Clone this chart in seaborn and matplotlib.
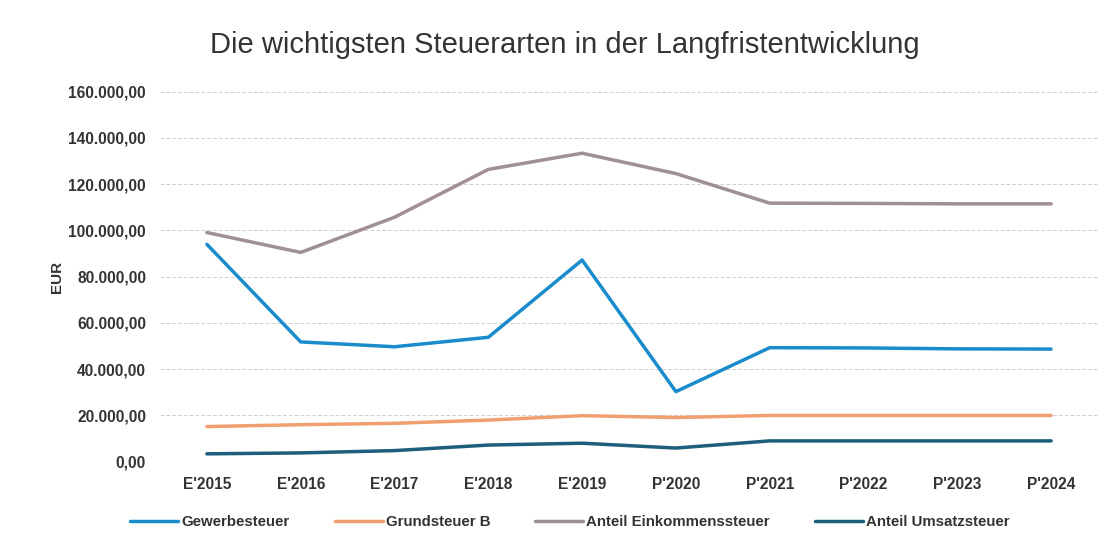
import pandas as pd
import numpy as np
import matplotlib
matplotlib.use('Agg')
import matplotlib.pyplot as plt
from matplotlib.ticker import FuncFormatter, MultipleLocator
import seaborn as sns

# Data
years = ["E'2015", "E'2016", "E'2017", "E'2018", "E'2019",
         "P'2020", "P'2021", "P'2022", "P'2023", "P'2024"]
gewerbesteuer = [94000, 51800, 49700, 53800, 87200, 30300, 49300, 49200, 48800, 48700]
grundsteuer_b = [15200, 16000, 16600, 18000, 19900, 19100, 20000, 20000, 20000, 20000]
einkommensteuer = [99100, 90500, 105700, 126400, 133400, 124600, 111800, 111700, 111500, 111500]
umsatzsteuer = [3400, 3800, 4800, 7200, 8000, 5900, 9000, 9000, 9000, 9000]

series_names = ['Gewerbesteuer', 'Grundsteuer B', 'Anteil Einkommenssteuer', 'Anteil Umsatzsteuer']
colors = ['#1a8ccc', '#f0a070', '#a08e98', '#1d5e7c']

df = pd.DataFrame({
    'Jahr': years * 4,
    'Wert': gewerbesteuer + grundsteuer_b + einkommensteuer + umsatzsteuer,
    'Steuerart': np.repeat(series_names, len(years)),
})

sns.set_theme(style='white')
plt.rcParams['font.family'] = ['Liberation Sans', 'DejaVu Sans']

fig = plt.figure(figsize=(11.13, 5.53), dpi=100)
ax = fig.add_axes([160 / 1113, 1 - 461.7 / 553, (1098 - 160) / 1113, (461.7 - 91.7) / 553])

sns.lineplot(data=df, x='Jahr', y='Wert', hue='Steuerart', hue_order=series_names,
             palette=colors, linewidth=2.5, sort=False, ax=ax, legend=True)

ax.set_ylim(0, 160000)
ax.set_xlim(-0.5, len(years) - 0.5)
ax.yaxis.set_major_locator(MultipleLocator(20000))
ax.yaxis.set_major_formatter(FuncFormatter(
    lambda v, p: f'{v:,.2f}'.replace(',', 'X').replace('.', ',').replace('X', '.')))
ax.grid(axis='y', color='#d0d0d0', linestyle=(0, (4, 2)), linewidth=0.7)
ax.grid(axis='x', visible=False)
ax.set_axisbelow(True)
for s in ax.spines.values():
    s.set_visible(False)

ax.tick_params(axis='both', length=0, labelsize=11.2, labelcolor='#333333')
ax.tick_params(axis='y', pad=10)
ax.tick_params(axis='x', pad=11)
for lab in ax.get_xticklabels() + ax.get_yticklabels():
    lab.set_fontweight('bold')

ax.set_xlabel('')
ax.set_ylabel('EUR', fontsize=11, fontweight='bold', color='#333333', labelpad=3)

fig.text(565 / 1113, 1 - 45 / 553, 'Die wichtigsten Steuerarten in der Langfristentwicklung',
         ha='center', va='center', fontsize=21, color='#333333')

handles, labels = ax.get_legend_handles_labels()
ax.get_legend().remove()
leg = fig.legend(handles, labels, loc='center', bbox_to_anchor=(570 / 1113, 1 - 522 / 553),
                 ncol=4, frameon=False, handlelength=3.2, handletextpad=0.2,
                 columnspacing=3.0, prop={'size': 10.8, 'weight': 'bold'})
for t in leg.get_texts():
    t.set_color('#333333')

fig.savefig('out.png', dpi=100)
